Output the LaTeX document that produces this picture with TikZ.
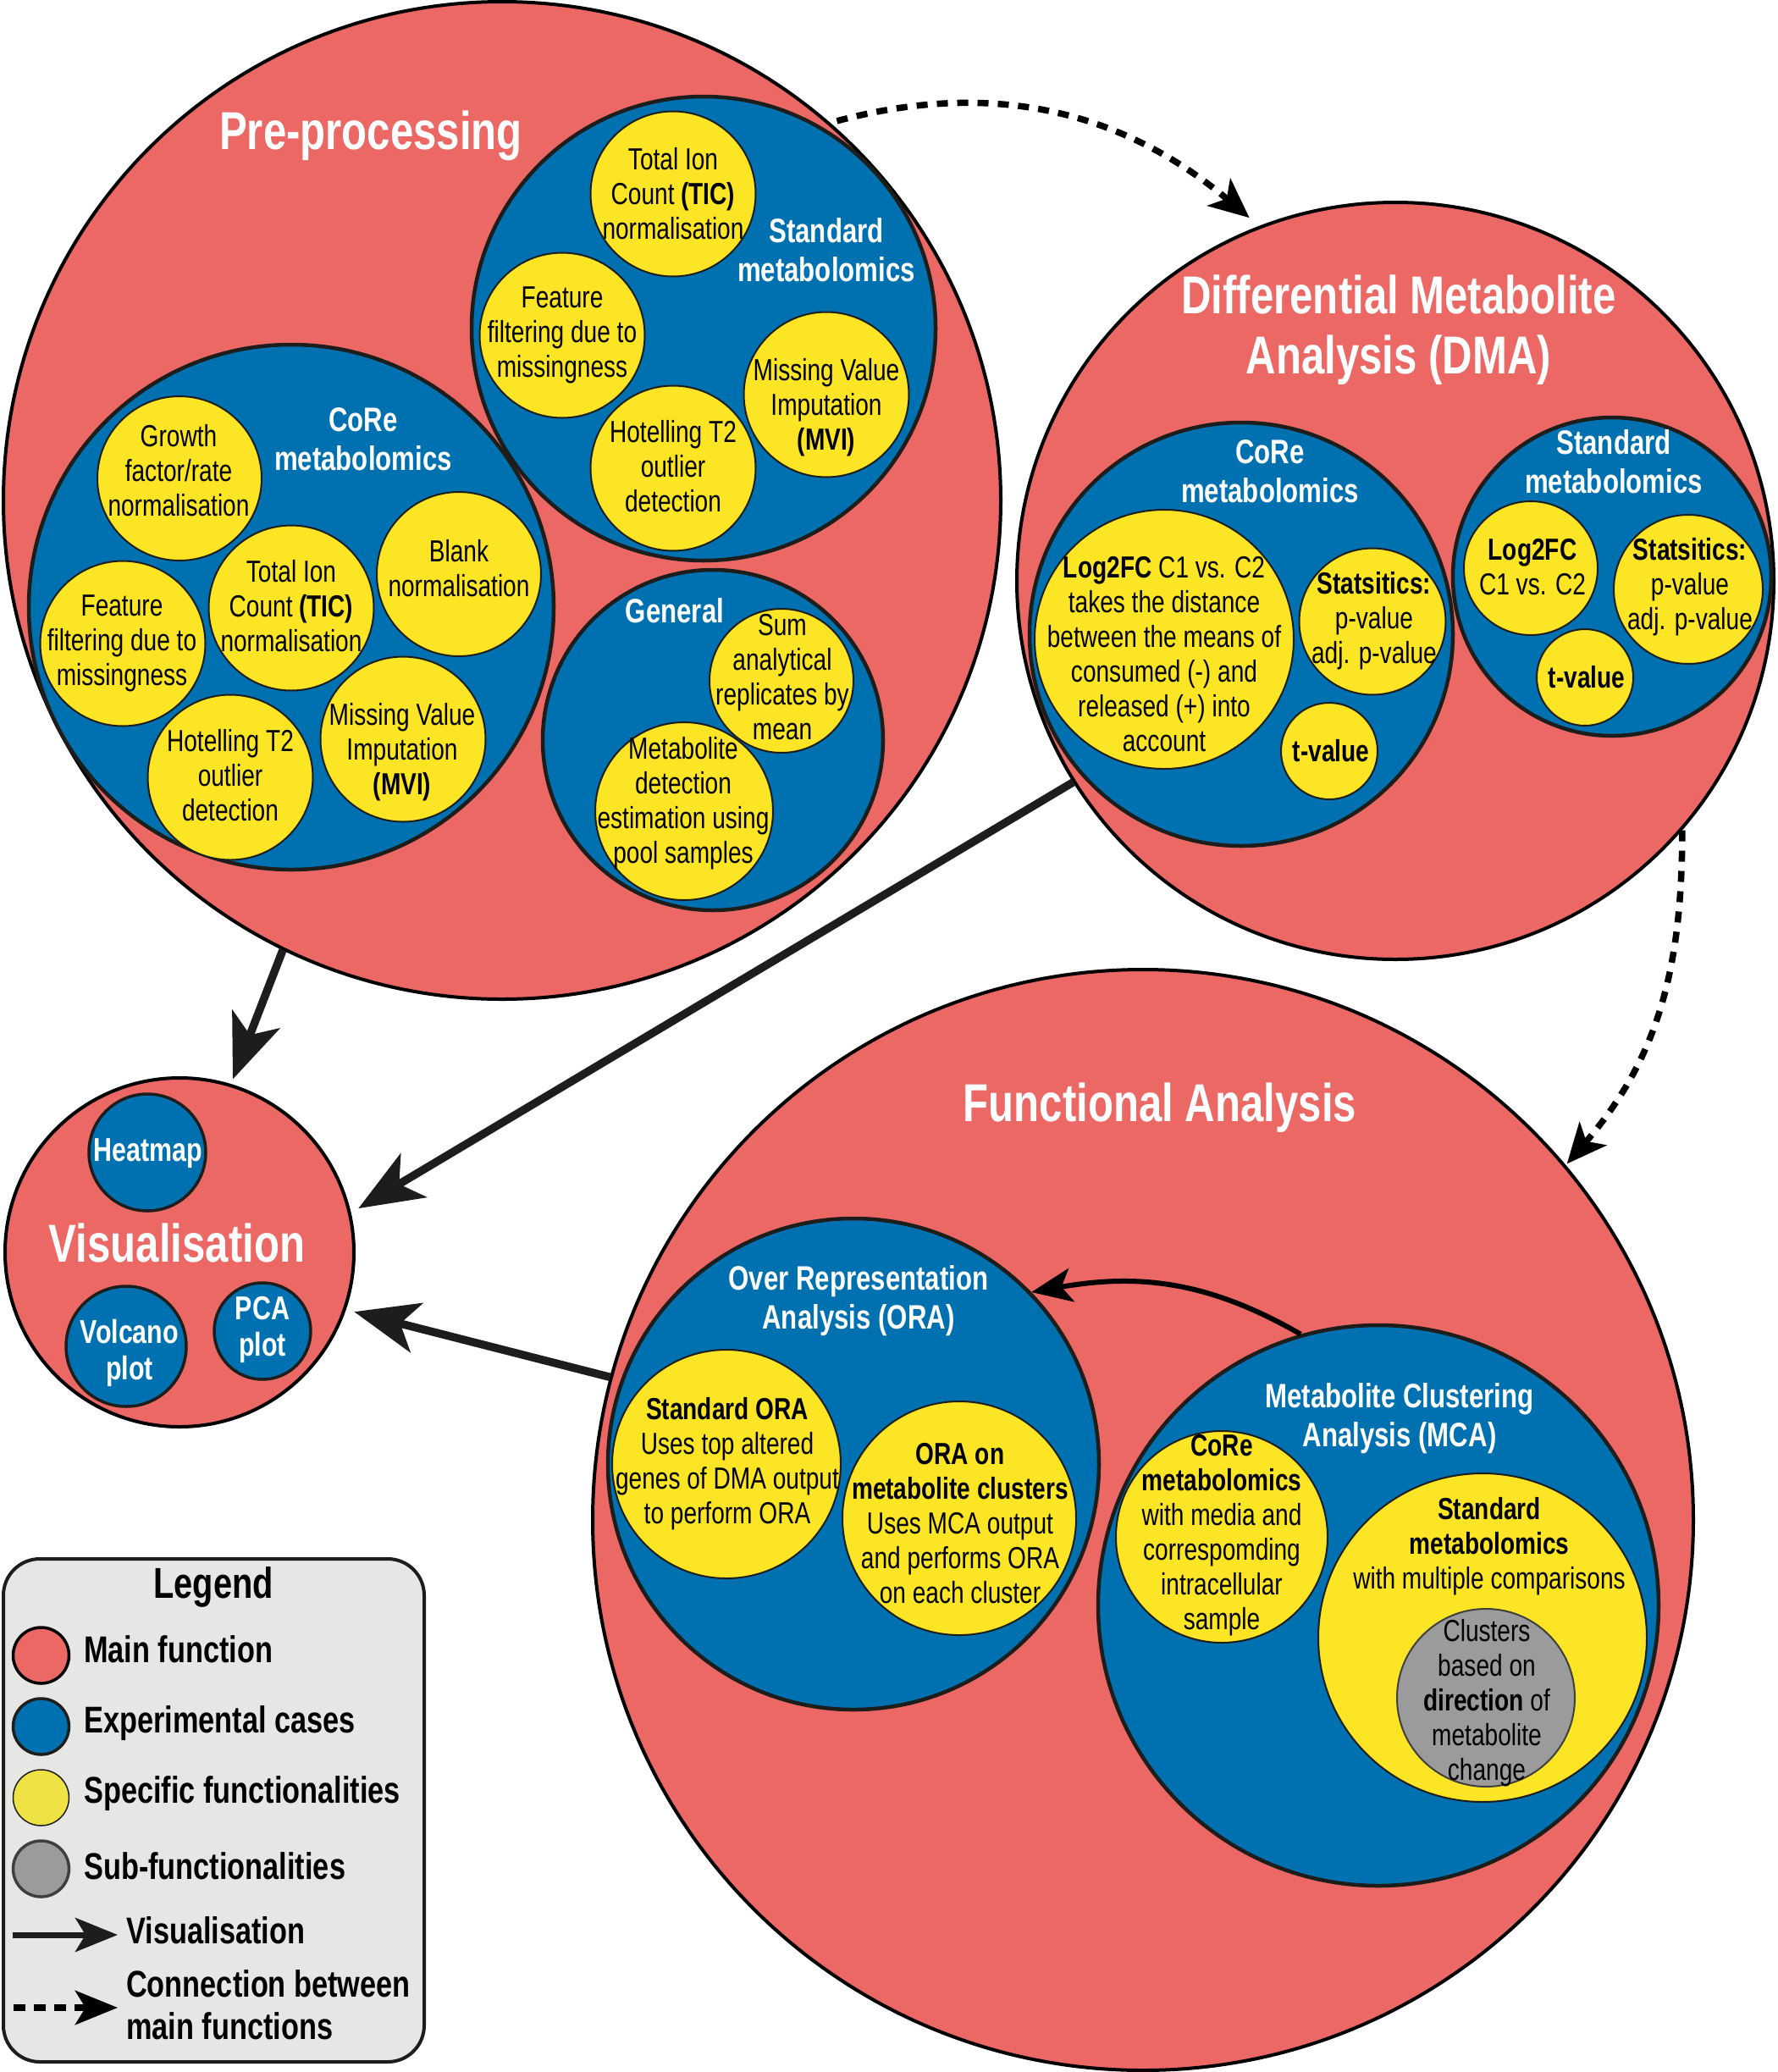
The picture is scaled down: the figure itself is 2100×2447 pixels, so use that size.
\documentclass[tikz,border=0pt]{standalone}
\usepackage{fontspec}
\setmainfont{Liberation Sans}[FakeStretch=0.78]
\usetikzlibrary{arrows.meta}
\definecolor{cred}{HTML}{EB6865}
\definecolor{cblue}{HTML}{0071B0}
\definecolor{cyel}{HTML}{FCE524}
\definecolor{cgray}{HTML}{9B9B9B}
\definecolor{cdark}{HTML}{1D1D1B}
\definecolor{clegbg}{HTML}{E6E6E5}
\definecolor{clegyel}{HTML}{EEE244}
\begin{document}
\begin{tikzpicture}[x=1pt,y=-1pt,
  mainc/.style={circle, fill=cred, draw=black, line width=4pt, inner sep=0pt, minimum size=2*#1},
  expc/.style={circle, fill=cblue, draw=cdark, line width=4.5pt, inner sep=0pt, minimum size=2*#1},
  specc/.style={circle, fill=cyel, draw=cdark, line width=2pt, inner sep=0pt, minimum size=2*#1},
  subc/.style={circle, fill=cgray, draw=cdark!85, line width=2pt, inner sep=0pt, minimum size=2*#1},
  ttl/.style={text=white, font=\fontsize{63}{71}\selectfont\bfseries, align=center, inner sep=0pt},
  lbl/.style={text=white, font=\fontsize{40}{46}\selectfont\bfseries, align=center, inner sep=0pt},
  vlbl/.style={text=white, font=\fontsize{39}{43}\selectfont\bfseries, align=center, inner sep=0pt},
  txt/.style={text=black, font=\fontsize{36}{41}\selectfont, align=center, inner sep=0pt},
  legtxt/.style={text=black, font=\fontsize{44}{50}\selectfont\bfseries, anchor=base west, inner sep=0pt},
  visarrow/.style={draw=cdark, line width=9.5pt, -{Stealth[length=76pt,width=60pt,inset=20pt]}},
  conarrow/.style={draw=black, line width=7.5pt, dash pattern=on 13pt off 11pt, -{Stealth[length=47pt,width=42pt,inset=12pt]}},
]
\useasboundingbox (0,0) rectangle (2100,2447);
\fill[white] (0,0) rectangle (2100,2447);

% ---------------- Pre-processing ----------------
\node[mainc=589] (pre) at (593,591) {};
\node[expc=274] (pstd) at (831,388) {};
\node[specc=97.5] (ptic) at (795,229) {};
\node[specc=97.5] (pfeat) at (664,396) {};
\node[specc=97.5] (pmvi) at (976,466) {};
\node[specc=97.5] (phot) at (795,553) {};
\node[expc=310] (pcore) at (344,717) {};
\node[specc=97] (cgro) at (212,565) {};
\node[specc=97] (cbla) at (542,678) {};
\node[specc=97.5] (ctic) at (344,718) {};
\node[specc=97.5] (cfea) at (145,760) {};
\node[specc=97.5] (chot) at (272,918) {};
\node[specc=97.5] (cmvi) at (476,873) {};
\node[expc=201] (pgen) at (842,874) {};
\node[specc=85] (gsum) at (923,804) {};
\node[specc=105] (gdet) at (808,958) {};

\node[ttl, anchor=base] (tpre) at (438,176) {Pre-processing};
\node[lbl] (lpstd) at (976,295) {Standard\\metabolomics};
\node[txt] (tptic) at (795,229) {Total Ion\\Count \textbf{(TIC)}\\normalisation};
\node[txt] (tpfeat) at (664,396) {Feature\\filtering due to\\missingness};
\node[txt] (tpmvi) at (976,481) {Missing Value\\Imputation\\\textbf{(MVI)}};
\node[txt] (tphot) at (795,551) {Hotelling T2\\outlier\\detection};
\node[lbl] (lpcore) at (429,519) {CoRe\\metabolomics};
\node[txt] (tcgro) at (211,556) {Growth\\factor/rate\\normalisation};
\node[txt] (tcbla) at (542,671) {Blank\\normalisation};
\node[txt] (tctic) at (344,716) {Total Ion\\Count \textbf{(TIC)}\\normalisation};
\node[txt] (tcfea) at (144,760) {Feature\\filtering due to\\missingness};
\node[txt] (tchot) at (272,916) {Hotelling T2\\outlier\\detection};
\node[txt] (tcmvi) at (475,888) {Missing Value\\Imputation\\\textbf{(MVI)}};
\node[lbl] (lpgen) at (797,721) {General};
\node[txt] (tgsum) at (924,800) {Sum\\analytical\\replicates by\\mean};
\node[txt] (tgdet) at (807,949) {Metabolite\\detection\\estimation using\\pool samples};

% ---------------- DMA ----------------
\node[mainc=447] (dma) at (1648,686) {};
\node[expc=250] (dcore) at (1466,749) {};
\node[specc=153] (dlog) at (1375,755) {};
\node[specc=86.5] (dsta) at (1621,734) {};
\node[specc=57] (dtv) at (1570,887) {};
\node[expc=188] (dstd) at (1904,681) {};
\node[specc=79] (slog) at (1808,671) {};
\node[specc=88] (ssta) at (1994,696) {};
\node[specc=57] (stv) at (1872,800) {};

\node[ttl] (tdma) at (1652,390) {Differential Metabolite\\Analysis (DMA)};
\node[lbl] (ldcore) at (1500,557) {CoRe\\metabolomics};
\node[txt] (tdlog) at (1375,773) {\textbf{Log2FC} C1 vs. C2\\takes the distance\\between the means of\\consumed (-) and\\released (+) into\\account};
\node[txt] (tdsta) at (1623,733) {\textbf{Statsitics:}\\p-value\\adj. p-value};
\node[txt] (tdtv) at (1572,887) {\textbf{t-value}};
\node[lbl] (ldstd) at (1906,545) {Standard\\metabolomics};
\node[txt] (tslog) at (1810,670) {\textbf{Log2FC}\\C1 vs. C2};
\node[txt] (tssta) at (1996,693) {\textbf{Statsitics:}\\p-value\\adj. p-value};
\node[txt] (tstv) at (1874,800) {\textbf{t-value}};

% ---------------- Functional Analysis ----------------
\node[mainc=650] (fa) at (1350,1795) {};
\node[expc=290] (ora) at (1008,1729) {};
\node[specc=135] (osta) at (858,1729) {};
\node[specc=138] (oclu) at (1133,1793) {};
\node[expc=331] (mca) at (1628,1896) {};
\node[specc=125] (mcore) at (1443,1815) {};
\node[specc=194] (mstd) at (1751,1934) {};
\node[subc=105] (mgray) at (1755,2005) {};

\node[ttl, anchor=base] (tfa) at (1370,1324) {Functional Analysis};
\node[lbl] (lora) at (1014,1536) {Over Representation\\Analysis (ORA)};
\node[txt] (tosta) at (859,1729) {\textbf{Standard ORA}\\Uses top altered\\genes of DMA output\\to perform ORA};
\node[txt] (toclu) at (1134,1799) {\textbf{ORA on}\\\textbf{metabolite clusters}\\Uses MCA output\\and performs ORA\\on each cluster};
\node[lbl] (lmca) at (1653,1675) {Metabolite Clustering\\Analysis (MCA)};
\node[txt] (tmcore) at (1443,1813) {\textbf{CoRe}\\\textbf{metabolomics}\\with media and\\correspomding\\intracellular\\sample};
\node[txt] (tmstd) at (1759,1826) {\textbf{Standard}\\\textbf{metabolomics}\\with multiple comparisons};
\node[txt] (tmgray) at (1756,2011) {Clusters\\based on\\\textbf{direction} of\\metabolite\\change};

% ---------------- Visualisation ----------------
\node[mainc=206] (vis) at (212,1479) {};
\node[expc=69, line width=3.5pt] (vheat) at (174,1361) {};
\node[expc=71, line width=3.5pt] (vvol) at (149,1590) {};
\node[expc=57, line width=3.5pt] (vpca) at (310,1572) {};
\node[ttl, anchor=base] (tvis) at (209,1490) {Visualisation};
\node[vlbl] (tvheat) at (175,1362) {Heatmap};
\node[vlbl] (tvvol) at (153,1598) {Volcano\\plot};
\node[vlbl] (tvpca) at (310,1570) {PCA\\plot};

% ---------------- Connectors ----------------
\draw[visarrow, shorten >=6pt] (pre.244.5) -- (vis.73.5);
\draw[visarrow, shorten >=10pt] (dma.212.8) -- (vis.13);
\draw[visarrow, shorten >=10pt] (fa.165.3) -- (vis.341.2);
\draw[conarrow, shorten <=8pt, shorten >=15pt] (pre.49.8) .. controls +(198,-53) and +(-157,-132) .. (dma.111.7);
\draw[conarrow, shorten >=2pt] (dma.319.7) .. controls +(0,165) and +(108,-125) .. (fa.40.2);
\draw[draw=black, line width=6pt, -{Stealth[length=48pt,width=40pt,inset=12pt]}] (mca.106) .. controls +(-110,-63.5) and +(125,-22) .. (ora.44.5);

% ---------------- Legend ----------------
\node[draw=cdark, line width=4pt, fill=clegbg, rounded corners=43pt, minimum width=497, minimum height=594, inner sep=0pt] (legend) at (252.5,2138) {};
\node[text=black, font=\fontsize{51}{56}\selectfont\bfseries, anchor=base, inner sep=0pt] (tleg) at (252,1887) {Legend};
\node[mainc=33, line width=3.5pt] (lg1) at (48.5,1955) {};
\node[expc=33, line width=3.5pt] (lg2) at (48.5,2039) {};
\node[circle, fill=clegyel, draw=cdark, line width=1.5pt, inner sep=0pt, minimum size=66] (lg3) at (48.5,2123) {};
\node[subc=33, line width=3.5pt] (lg4) at (48.5,2207) {};
\node[legtxt] (tlg1) at (99,1963) {Main function};
\node[legtxt] (tlg2) at (99,2046) {Experimental cases};
\node[legtxt] (tlg3) at (99,2129) {Specific functionalities};
\node[legtxt] (tlg4) at (99,2219) {Sub-functionalities};
\node[legtxt] (tlg5) at (149,2295) {Visualisation};
\node[legtxt, align=left, anchor=north west] (tlg6) at (149,2326) {Connection between\\main functions};
\coordinate (la1) at (15,2285);
\coordinate (lb1) at (139,2285);
\coordinate (la2) at (16,2371);
\coordinate (lb2) at (139,2371);
\draw[draw=cdark, line width=7pt, -{Stealth[length=50pt,width=40pt,inset=12pt]}] (la1) -- (lb1);
\draw[draw=black, line width=8pt, dash pattern=on 14pt off 10pt, -{Stealth[length=50pt,width=40pt,inset=12pt]}] (la2) -- (lb2);
\end{tikzpicture}
\end{document}
